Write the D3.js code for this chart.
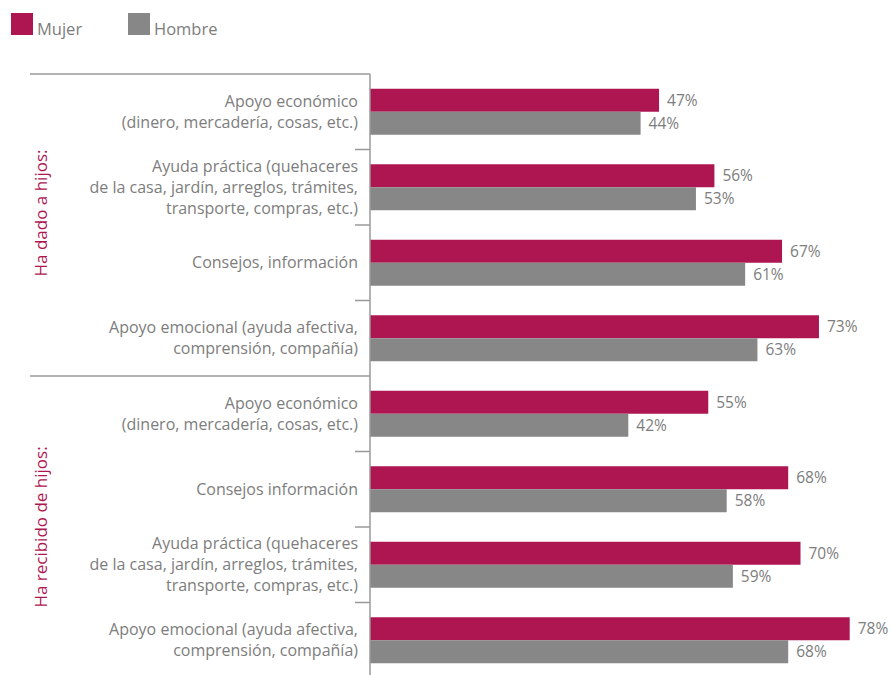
<!DOCTYPE html>
<html>
<head>
<meta charset="utf-8">
<script src="https://cdn.jsdelivr.net/npm/d3@7"></script>
<style>
  body { margin: 0; background: #fff; }
  text { font-family: "Open Sans", "Noto Sans", sans-serif; }
</style>
</head>
<body>
<div id="chart"></div>
<script>
// data
const groups = ["Ha dado a hijos:", "Ha recibido de hijos:"];
const categories = [
    ["Apoyo económico", "(dinero, mercadería, cosas, etc.)"],
    ["Ayuda práctica (quehaceres", "de la casa, jardín, arreglos, trámites,", "transporte, compras, etc.)"],
    ["Consejos, información"],
    ["Apoyo emocional (ayuda afectiva,", "comprensión, compañía)"],
    ["Apoyo económico", "(dinero, mercadería, cosas, etc.)"],
    ["Consejos información"],
    ["Ayuda práctica (quehaceres", "de la casa, jardín, arreglos, trámites,", "transporte, compras, etc.)"],
    ["Apoyo emocional (ayuda afectiva,", "comprensión, compañía)"]
];
const categoryGroup = [0, 0, 0, 0, 1, 1, 1, 1];
const series = ["Mujer", "Hombre"];
const mujer = [47, 56, 67, 73, 55, 68, 70, 78];
const hombre = [44, 53, 61, 63, 42, 58, 59, 68];

const width = 893, height = 675;
const colors = ["#ae1652", "#878787"];
const textGray = "#7d7d7d";
const lineGray = "#9a9a9a";
const axisX = 370;

const svg = d3.select("#chart").append("svg")
    .attr("width", width)
    .attr("height", height);

const x = d3.scaleLinear()
    .domain([0, 100])
    .range([axisX, axisX + 615]);

const y = d3.scaleBand()
    .domain(d3.range(categories.length))
    .range([74, 678]);

const barH = 23;

// legend
const legend = svg.append("g")
    .selectAll("g")
    .data(series)
    .enter().append("g")
    .attr("transform", (d, i) => `translate(${11 + i * 117}, 13)`);

legend.append("rect")
    .attr("width", 22)
    .attr("height", 22)
    .attr("fill", (d, i) => colors[i]);

legend.append("text")
    .attr("x", 26)
    .attr("y", 22)
    .attr("fill", textGray)
    .style("font-size", "16.5px")
    .text(d => d);

// group separators
groups.forEach((g, gi) => {
    const idx = categoryGroup.indexOf(gi);
    svg.append("line")
        .attr("x1", 30)
        .attr("x2", axisX)
        .attr("y1", y(idx))
        .attr("y2", y(idx))
        .attr("stroke", lineGray)
        .attr("stroke-width", 1.5);
});

// tick marks between categories
svg.append("g")
    .selectAll("line")
    .data(d3.range(1, categories.length).filter(i => categoryGroup[i] === categoryGroup[i - 1]))
    .enter().append("line")
    .attr("x1", axisX - 15)
    .attr("x2", axisX)
    .attr("y1", d => y(d))
    .attr("y2", d => y(d))
    .attr("stroke", lineGray)
    .attr("stroke-width", 1.5);

// bars
const rows = svg.append("g")
    .selectAll("g")
    .data(categories.map((c, i) => ({ label: c, values: [mujer[i], hombre[i]], i })))
    .enter().append("g")
    .attr("transform", d => `translate(0, ${y(d.i) + y.bandwidth() / 2 - barH})`);

rows.selectAll("rect")
    .data(d => d.values)
    .enter().append("rect")
    .attr("x", x(0))
    .attr("y", (d, i) => i * barH)
    .attr("width", d => x(d) - x(0))
    .attr("height", barH)
    .attr("fill", (d, i) => colors[i]);

rows.selectAll(".value")
    .data(d => d.values)
    .enter().append("text")
    .attr("class", "value")
    .attr("x", d => x(d) + 8)
    .attr("y", (d, i) => i * barH + barH / 2)
    .attr("dy", "0.35em")
    .attr("fill", textGray)
    .style("font-size", "15.5px")
    .text(d => d + "%");

// category labels
const lineH = 21;
rows.append("text")
    .attr("text-anchor", "end")
    .attr("fill", textGray)
    .style("font-size", "16px")
    .selectAll("tspan")
    .data(d => d.label)
    .enter().append("tspan")
    .attr("x", axisX - 12)
    .attr("y", (d, i, n) => barH + (i - (n.length - 1) / 2) * lineH)
    .attr("dy", "0.35em")
    .text(d => d);

// axis line
svg.append("line")
    .attr("x1", axisX)
    .attr("x2", axisX)
    .attr("y1", y(0))
    .attr("y2", height)
    .attr("stroke", lineGray)
    .attr("stroke-width", 1.5);

// group labels
svg.append("g")
    .selectAll("text")
    .data(groups)
    .enter().append("text")
    .attr("transform", (d, gi) => {
        const idx = categoryGroup.map((g, i) => g === gi ? i : -1).filter(i => i >= 0);
        const cy = (y(idx[0]) + y(idx[idx.length - 1]) + y.bandwidth()) / 2 - (gi === 0 ? 12 : 0);
        return `translate(47, ${cy}) rotate(-90)`;
    })
    .attr("text-anchor", "middle")
    .attr("fill", colors[0])
    .style("font-size", "17px")
    .text(d => d);
</script>
</body>
</html>
